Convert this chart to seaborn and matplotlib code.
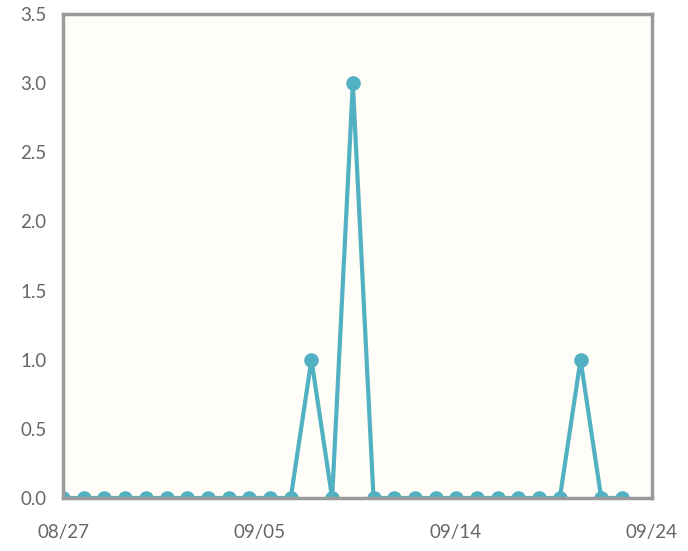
import numpy as np
import pandas as pd
import matplotlib
matplotlib.use('Agg')
import matplotlib.pyplot as plt
import matplotlib.dates as mdates
import matplotlib.patheffects as pe
import seaborn as sns

dates = pd.date_range('2013-08-27', '2013-09-23', freq='D')
counts = [0, 0, 0, 0, 0, 0, 0, 0, 0, 0, 0, 0, 1, 0, 3, 0, 0, 0, 0, 0,
          0, 0, 0, 0, 0, 1, 0, 0]
y_ticks = [0.0, 0.5, 1.0, 1.5, 2.0, 2.5, 3.0, 3.5]

df = pd.DataFrame({'date': dates, 'count': counts})

sns.set_style('white')
plt.rcParams['font.family'] = ['Lato', 'DejaVu Sans']

fig = plt.figure(figsize=(6.88, 5.51), dpi=100)
ax = fig.add_axes([0.0916, 0.0962, 0.856, 0.8784])
ax.set_facecolor('#fffdf7')

sns.lineplot(data=df, x='date', y='count', ax=ax, color='#52b0c3',
             linewidth=3, marker='o', markersize=10.5, markeredgewidth=0)

# axis spans a bit past the last day, ticks split it in thirds
start = dates[0]
end = start + pd.Timedelta(days=28.45)
ax.set_xlim(start, end)
ax.set_xticks(pd.date_range(start, end, periods=4))
ax.xaxis.set_major_formatter(mdates.DateFormatter('%m/%d'))
ax.set_ylim(0, 3.5)
ax.set_yticks(y_ticks)
ax.set_yticklabels([f'{v:.1f}' for v in y_ticks])
ax.set_xlabel('')
ax.set_ylabel('')

for s in ax.spines.values():
    s.set_color('#9a9a9a')
    s.set_linewidth(2.5)
    s.set_path_effects([pe.SimplePatchShadow(offset=(2, -2), alpha=0.12), pe.Normal()])

ax.tick_params(axis='both', colors='#9a9a9a', labelcolor='#666666',
               labelsize=13.5, length=6, width=1.5, direction='out')
ax.tick_params(axis='x', pad=13)
ax.tick_params(axis='y', pad=6)

fig.savefig('out.png', dpi=100)
